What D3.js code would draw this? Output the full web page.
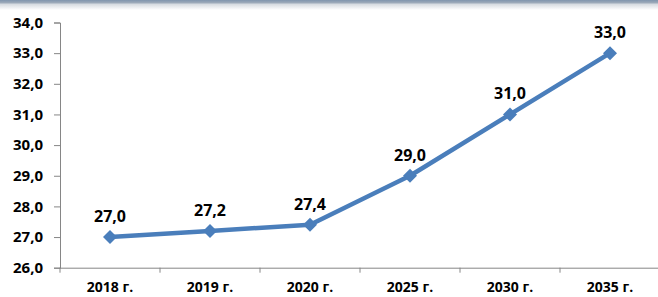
<!DOCTYPE html>
<html>
<head>
<meta charset="utf-8">
<script src="https://cdn.jsdelivr.net/npm/d3@7"></script>
<style>
  body { margin: 0; background: #fff; }
  svg { display: block; font-family: "Open Sans", sans-serif; font-weight: bold; }
</style>
</head>
<body>
<div id="chart"></div>
<script>
// data
var years = ["2018 г.", "2019 г.", "2020 г.", "2025 г.", "2030 г.", "2035 г."];
var values = [27.0, 27.2, 27.4, 29.0, 31.0, 33.0];
var yTicks = [26, 27, 28, 29, 30, 31, 32, 33, 34];

var width = 658, height = 297;
var margin = { left: 60, right: -2, top: 22.5, bottom: 29.3 };

var svg = d3.select("#chart").append("svg")
  .attr("width", width).attr("height", height);

// top band with soft shadow
var defs = svg.append("defs");
var grad = defs.append("linearGradient").attr("id", "topShade")
  .attr("x1", 0).attr("y1", 0).attr("x2", 0).attr("y2", 1);
grad.append("stop").attr("offset", "0%").attr("stop-color", "#7f95ad");
grad.append("stop").attr("offset", "25%").attr("stop-color", "#9aa8b8");
grad.append("stop").attr("offset", "45%").attr("stop-color", "#d8dde2");
grad.append("stop").attr("offset", "100%").attr("stop-color", "#ffffff");
svg.append("rect").attr("x", 0).attr("y", 0).attr("width", width).attr("height", 10)
  .attr("fill", "url(#topShade)");

var x = d3.scaleBand().domain(years)
  .range([margin.left, width - margin.right]);
var y = d3.scaleLinear().domain([26, 34])
  .range([height - margin.bottom, margin.top]);

var fmt = function (v) { return d3.format(".1f")(v).replace(".", ","); };

// y axis
var yAxis = svg.append("g")
  .attr("transform", "translate(" + margin.left + ",0)")
  .call(d3.axisLeft(y).tickValues(yTicks).tickFormat(fmt).tickSize(6).tickPadding(11));
yAxis.selectAll("text").attr("font-size", 15).attr("fill", "#000")
  .attr("font-family", "Open Sans, sans-serif").attr("font-weight", "bold");

// x axis
var xAxis = svg.append("g")
  .attr("transform", "translate(0," + y(26) + ")")
  .call(d3.axisBottom(x).tickSize(0).tickPadding(14));
xAxis.selectAll("text").attr("font-size", 14).attr("fill", "#000")
  .attr("font-family", "Open Sans, sans-serif").attr("font-weight", "bold");
// tick marks between categories
xAxis.selectAll(".sep").data(years.slice(0, -1)).enter().append("line")
  .attr("class", "sep")
  .attr("x1", function (d) { return x(d) + x.bandwidth(); })
  .attr("x2", function (d) { return x(d) + x.bandwidth(); })
  .attr("y1", 0).attr("y2", 5)
  .attr("stroke", "#868686");
xAxis.append("line").attr("x1", margin.left).attr("x2", margin.left)
  .attr("y1", 0).attr("y2", 5).attr("stroke", "#868686");

svg.selectAll(".domain, .tick line").attr("stroke", "#868686");
xAxis.select(".domain").attr("d", "M" + margin.left + ",0.5H" + width);

var pts = years.map(function (d, i) { return { k: d, v: values[i] }; });
var cx = function (d) { return x(d.k) + x.bandwidth() / 2; };

// line
svg.append("path").datum(pts)
  .attr("fill", "none")
  .attr("stroke", "#4a7ebb")
  .attr("stroke-width", 4.5)
  .attr("stroke-linejoin", "round")
  .attr("d", d3.line().x(cx).y(function (d) { return y(d.v); }));

// diamond markers
svg.selectAll(".mark").data(pts).enter().append("path")
  .attr("class", "mark")
  .attr("transform", function (d) { return "translate(" + cx(d) + "," + y(d.v) + ")"; })
  .attr("d", "M0,-7L7,0L0,7L-7,0Z")
  .attr("fill", "#4a7ebb");

// value labels
svg.selectAll(".lbl").data(pts).enter().append("text")
  .attr("class", "lbl")
  .attr("x", cx)
  .attr("y", function (d) { return y(d.v) - 15; })
  .attr("text-anchor", "middle")
  .attr("font-size", 16)
  .text(function (d) { return fmt(d.v); });
</script>
</body>
</html>
